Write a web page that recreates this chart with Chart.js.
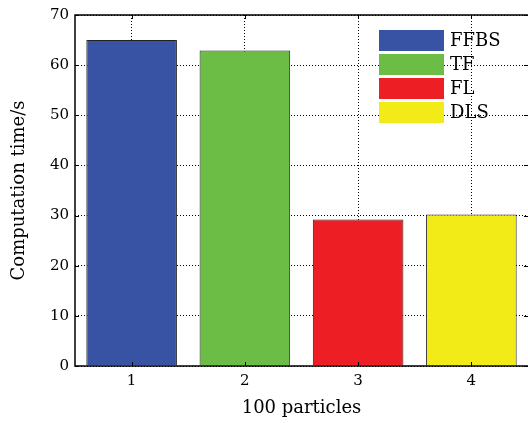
<!DOCTYPE html>
<html>
<head>
<meta charset="utf-8">
<script src="https://cdn.jsdelivr.net/npm/chart.js@4/dist/chart.umd.min.js"></script>
<style>
  html, body { margin: 0; padding: 0; background: #fff; }
  #wrap { width: 528px; height: 423px; }
</style>
</head>
<body>
<div id="wrap"><canvas id="chart" width="528" height="423"></canvas></div>
<script>
// data
const methods = ['FFBS', 'TF', 'FL', 'DLS'];
const positions = [1, 2, 3, 4];
const times = [65, 62.9, 29.2, 30.2];
const colors = ['#3953a4', '#6bbd45', '#ee1f24', '#f2eb17'];
const yTicks = [0, 10, 20, 30, 40, 50, 60, 70];

const FONT = 'DejaVu Serif';

// ticks pointing into the plot + frame + legend box
const framePlugin = {
  id: 'frame',
  afterDatasetsDraw(chart) {
    const { ctx, chartArea: a, scales } = chart;
    ctx.save();

    // legend
    ctx.font = '18px "' + FONT + '"';
    ctx.textBaseline = 'middle';
    ctx.textAlign = 'left';
    chart.data.datasets.forEach((ds, i) => {
      const bx = a.right - 149, by = a.top + 15 + i * 24;
      ctx.fillStyle = ds.backgroundColor;
      ctx.fillRect(bx, by, 65, 21);
      ctx.fillStyle = '#000';
      ctx.fillText(ds.label, bx + 71, by + 11);
    });

    ctx.strokeStyle = '#000';
    ctx.lineWidth = 1;
    ctx.beginPath();
    yTicks.forEach(v => {
      const y = Math.round(scales.y.getPixelForValue(v)) + 0.5;
      ctx.moveTo(a.left, y); ctx.lineTo(a.left + 4, y);
      ctx.moveTo(a.right, y); ctx.lineTo(a.right - 4, y);
    });
    positions.forEach(v => {
      const x = Math.round(scales.x.getPixelForValue(v)) + 0.5;
      ctx.moveTo(x, a.top); ctx.lineTo(x, a.top + 4);
      ctx.moveTo(x, a.bottom); ctx.lineTo(x, a.bottom - 4);
    });
    ctx.stroke();

    // right side of the box falls just outside the picture
    ctx.lineWidth = 1.5;
    ctx.beginPath();
    ctx.moveTo(a.right + 2, a.top);
    ctx.lineTo(a.left, a.top);
    ctx.lineTo(a.left, a.bottom);
    ctx.lineTo(a.right + 2, a.bottom);
    ctx.stroke();
    ctx.restore();
  }
};

new Chart(document.getElementById('chart'), {
  type: 'bar',
  data: {
    datasets: methods.map((m, i) => ({
      label: m,
      data: [{ x: positions[i], y: times[i] }],
      backgroundColor: colors[i],
      borderColor: '#222',
      borderWidth: 1,
      grouped: false,
      categoryPercentage: 1,
      barPercentage: 0.8
    }))
  },
  options: {
    responsive: false,
    animation: false,
    layout: { padding: { top: 14, right: 0, left: 0, bottom: 0 } },
    plugins: { legend: { display: false }, tooltip: { enabled: false } },
    scales: {
      x: {
        type: 'linear',
        offset: false,
        min: 0.5,
        max: 4.5,
        afterBuildTicks: s => { s.ticks = positions.map(v => ({ value: v })); },
        afterFit: s => { s.height = 57; },
        grid: { color: '#000', lineWidth: 1, drawTicks: false, offset: false },
        border: { display: false, dash: [1, 2] },
        ticks: { color: '#000', padding: 6, font: { family: FONT, size: 15 } },
        title: { display: true, text: '100 particles', color: '#000', padding: { top: 0, bottom: 4 }, font: { family: FONT, size: 18 } }
      },
      y: {
        min: 0,
        max: 70,
        afterBuildTicks: s => { s.ticks = yTicks.map(v => ({ value: v })); },
        afterFit: s => { s.width = 75; },
        grid: { color: '#000', lineWidth: 1, drawTicks: false },
        border: { display: false, dash: [1, 2] },
        ticks: { color: '#000', padding: 6, font: { family: FONT, size: 15 } },
        title: { display: true, text: 'Computation time/s', color: '#000', padding: { top: 9, bottom: 0 }, font: { family: FONT, size: 18 } }
      }
    }
  },
  plugins: [framePlugin]
});
</script>
</body>
</html>
